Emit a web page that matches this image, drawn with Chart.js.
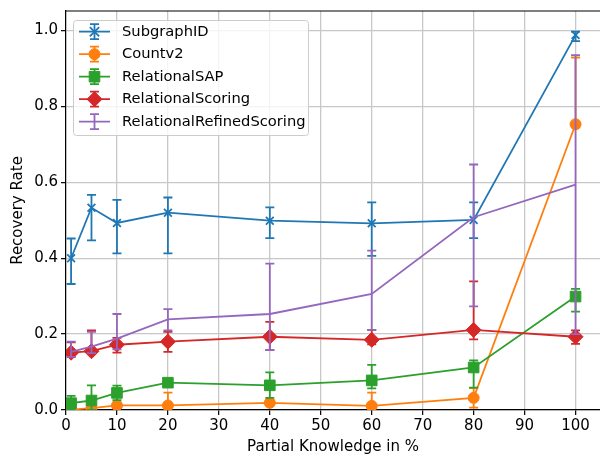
<!DOCTYPE html>
<html lang="en">
<head>
    <meta charset="UTF-8">
    <title>Recovery Rate vs Partial Knowledge</title>
    <script src="https://cdn.jsdelivr.net/npm/chart.js@4.4.0/dist/chart.umd.min.js"></script>
    <style>
        html, body {
            margin: 0;
            padding: 0;
            background: #fff;
        }
        .chart-box {
            width: 600px;
            height: 457px;
        }
    </style>
</head>
<body>
    <div class="chart-box">
        <canvas id="chart"></canvas>
    </div>

    <script>
        // x positions (partial knowledge in %)
        const knowledge = [1, 5, 10, 20, 40, 60, 80, 100];
        const xTicks = [0, 10, 20, 30, 40, 50, 60, 70, 80, 90, 100];
        const yTicks = [0.0, 0.2, 0.4, 0.6, 0.8, 1.0];

        const seriesNames = ['SubgraphID', 'Countv2', 'RelationalSAP', 'RelationalScoring', 'RelationalRefinedScoring'];

        // means and error bar bounds
        const subgraphMean = [0.400, 0.533, 0.493, 0.520, 0.499, 0.492, 0.501, 0.988];
        const subgraphLow  = [0.332, 0.447, 0.413, 0.413, 0.453, 0.406, 0.453, 0.972];
        const subgraphHigh = [0.452, 0.567, 0.554, 0.560, 0.534, 0.547, 0.547, 0.997];

        const countMean = [0.001, 0.005, 0.012, 0.012, 0.019, 0.011, 0.032, 0.753];
        const countLow  = [0.000, 0.000, 0.005, 0.000, 0.012, 0.000, 0.006, 0.745];
        const countHigh = [0.003, 0.012, 0.020, 0.046, 0.026, 0.046, 0.058, 0.929];

        const sapMean = [0.018, 0.025, 0.045, 0.072, 0.065, 0.078, 0.112, 0.299];
        const sapLow  = [0.000, 0.000, 0.026, 0.064, 0.032, 0.057, 0.059, 0.259];
        const sapHigh = [0.037, 0.065, 0.064, 0.080, 0.099, 0.119, 0.131, 0.319];

        const scoringMean = [0.151, 0.155, 0.172, 0.180, 0.193, 0.185, 0.211, 0.193];
        const scoringLow  = [0.140, 0.147, 0.151, 0.153, 0.158, 0.173, 0.186, 0.174];
        const scoringHigh = [0.178, 0.210, 0.190, 0.206, 0.232, 0.211, 0.339, 0.210];

        const refinedMean = [0.153, 0.167, 0.188, 0.239, 0.253, 0.306, 0.508, 0.594];
        const refinedLow  = [0.140, 0.150, 0.160, 0.210, 0.158, 0.211, 0.273, 0.200];
        const refinedHigh = [0.180, 0.206, 0.253, 0.266, 0.386, 0.420, 0.647, 0.935];

        const colors = ['#1f77b4', '#ff7f0e', '#2ca02c', '#d62728', '#9467bd'];
        const markers = ['crossRot', 'circle', 'rect', 'rectRot', false];
        const markerSizes = [5.5, 5.5, 7.5, 7.5, 0];

        const means = [subgraphMean, countMean, sapMean, scoringMean, refinedMean];
        const lows = [subgraphLow, countLow, sapLow, scoringLow, refinedLow];
        const highs = [subgraphHigh, countHigh, sapHigh, scoringHigh, refinedHigh];

        const FONT = { family: 'DejaVu Sans', size: 15 };
        const LEGEND_FONT = '14.7px "DejaVu Sans"';
        const LINE_W = 1.8;
        const CAP = 4.5;

        const datasets = seriesNames.map((name, i) => ({
            label: name,
            data: knowledge.map((x, j) => ({ x: x, y: means[i][j] })),
            low: lows[i],
            high: highs[i],
            borderColor: colors[i],
            backgroundColor: colors[i],
            borderWidth: LINE_W,
            pointStyle: markers[i],
            pointRadius: markerSizes[i],
            pointBorderWidth: markers[i] === 'crossRot' ? LINE_W : 1,
            pointBackgroundColor: colors[i],
            pointBorderColor: colors[i],
            tension: 0,
            order: -i
        }));

        // draws each dataset's error bars just before the dataset itself
        const errorBars = {
            id: 'errorBars',
            beforeDatasetDraw(chart, args) {
                const ds = chart.data.datasets[args.index];
                const { ctx, chartArea } = chart;
                const xs = chart.scales.x, ys = chart.scales.y;
                ctx.save();
                ctx.beginPath();
                ctx.rect(chartArea.left, chartArea.top, chartArea.right - chartArea.left, chartArea.bottom - chartArea.top);
                ctx.clip();
                ctx.strokeStyle = ds.borderColor;
                ctx.lineWidth = LINE_W;
                ds.data.forEach((p, j) => {
                    const px = xs.getPixelForValue(p.x);
                    const y0 = ys.getPixelForValue(ds.low[j]);
                    const y1 = ys.getPixelForValue(ds.high[j]);
                    ctx.beginPath();
                    ctx.moveTo(px, y0); ctx.lineTo(px, y1);
                    ctx.moveTo(px - CAP, y0); ctx.lineTo(px + CAP, y0);
                    ctx.moveTo(px - CAP, y1); ctx.lineTo(px + CAP, y1);
                    ctx.stroke();
                });
                ctx.restore();
            }
        };

        function drawMarker(ctx, style, x, y, r, color) {
            ctx.fillStyle = color;
            ctx.strokeStyle = color;
            ctx.beginPath();
            if (style === 'circle') {
                ctx.arc(x, y, r, 0, Math.PI * 2);
                ctx.fill(); ctx.stroke();
            } else if (style === 'rect') {
                const s = r * Math.SQRT1_2;
                ctx.rect(x - s, y - s, 2 * s, 2 * s);
                ctx.fill(); ctx.stroke();
            } else if (style === 'rectRot') {
                ctx.moveTo(x, y - r); ctx.lineTo(x + r, y);
                ctx.lineTo(x, y + r); ctx.lineTo(x - r, y);
                ctx.closePath();
                ctx.fill(); ctx.stroke();
            } else if (style === 'crossRot') {
                const s = r * Math.SQRT1_2 * 1.2;
                ctx.lineWidth = LINE_W;
                ctx.moveTo(x - s, y - s); ctx.lineTo(x + s, y + s);
                ctx.moveTo(x - s, y + s); ctx.lineTo(x + s, y - s);
                ctx.stroke();
            }
        }

        // matplotlib style legend box + top spine
        const legendBox = {
            id: 'legendBox',
            afterDraw(chart) {
                const { ctx, chartArea } = chart;
                ctx.save();
                ctx.strokeStyle = '#000';
                ctx.lineWidth = 1.2;
                ctx.beginPath();
                ctx.moveTo(chartArea.left, chartArea.top);
                ctx.lineTo(chartArea.right, chartArea.top);
                ctx.stroke();

                ctx.fillStyle = 'rgba(255,255,255,0.8)';
                ctx.strokeStyle = '#cccccc';
                ctx.lineWidth = 1;
                ctx.beginPath();
                ctx.roundRect(73.5, 20.5, 235, 115, 3);
                ctx.fill();
                ctx.stroke();

                chart.data.datasets.forEach((ds, i) => {
                    const y = 31.7 + i * 22.5;
                    const mx = 94.5;
                    ctx.strokeStyle = ds.borderColor;
                    ctx.lineWidth = LINE_W;
                    ctx.beginPath();
                    ctx.moveTo(79, y); ctx.lineTo(110, y);
                    ctx.moveTo(mx, y - 7.5); ctx.lineTo(mx, y + 7.5);
                    ctx.moveTo(mx - CAP, y - 7.5); ctx.lineTo(mx + CAP, y - 7.5);
                    ctx.moveTo(mx - CAP, y + 7.5); ctx.lineTo(mx + CAP, y + 7.5);
                    ctx.stroke();
                    ctx.lineWidth = 1;
                    drawMarker(ctx, markers[i], mx, y, markerSizes[i], ds.borderColor);

                    ctx.fillStyle = '#000';
                    ctx.font = LEGEND_FONT;
                    ctx.textBaseline = 'middle';
                    ctx.textAlign = 'left';
                    ctx.fillText(ds.label, 122, y);
                });
                ctx.restore();
            }
        };

        const gridStyle = {
            color: '#c8c8c8',
            lineWidth: 1.3,
            tickLength: 5,
            tickColor: '#000',
            tickWidth: 1.2
        };

        new Chart(document.getElementById('chart'), {
            type: 'line',
            data: { datasets: datasets },
            plugins: [errorBars, legendBox],
            options: {
                responsive: true,
                maintainAspectRatio: false,
                animation: false,
                layout: {
                    autoPadding: false,
                    padding: { top: 11, right: 0, left: 0, bottom: 0 }
                },
                plugins: {
                    legend: { display: false },
                    tooltip: { enabled: false }
                },
                scales: {
                    x: {
                        type: 'linear',
                        min: 0,
                        max: 104.8,
                        afterBuildTicks: scale => { scale.ticks = xTicks.map(v => ({ value: v })); },
                        afterFit: scale => {
                            scale.height = 47;
                            scale.paddingLeft = 0;
                            scale.paddingRight = 0;
                        },
                        grid: gridStyle,
                        border: { color: '#000', width: 1.2 },
                        ticks: {
                            color: '#000',
                            font: FONT,
                            padding: 2,
                            maxRotation: 0,
                            callback: v => String(v)
                        },
                        title: {
                            display: true,
                            text: 'Partial Knowledge in %',
                            color: '#000',
                            font: FONT,
                            padding: { top: 0, bottom: 1 }
                        }
                    },
                    y: {
                        min: 0,
                        max: 1.0515,
                        afterBuildTicks: scale => { scale.ticks = yTicks.map(v => ({ value: v })); },
                        afterFit: scale => {
                            scale.width = 66;
                            scale.paddingTop = 0;
                            scale.paddingBottom = 0;
                        },
                        grid: gridStyle,
                        border: { color: '#000', width: 1.2 },
                        ticks: {
                            color: '#000',
                            font: FONT,
                            padding: 3,
                            callback: v => v.toFixed(1)
                        },
                        title: {
                            display: true,
                            text: 'Recovery Rate',
                            color: '#000',
                            font: FONT,
                            padding: { top: 9, bottom: 0 }
                        }
                    }
                }
            }
        });
    </script>
</body>
</html>
